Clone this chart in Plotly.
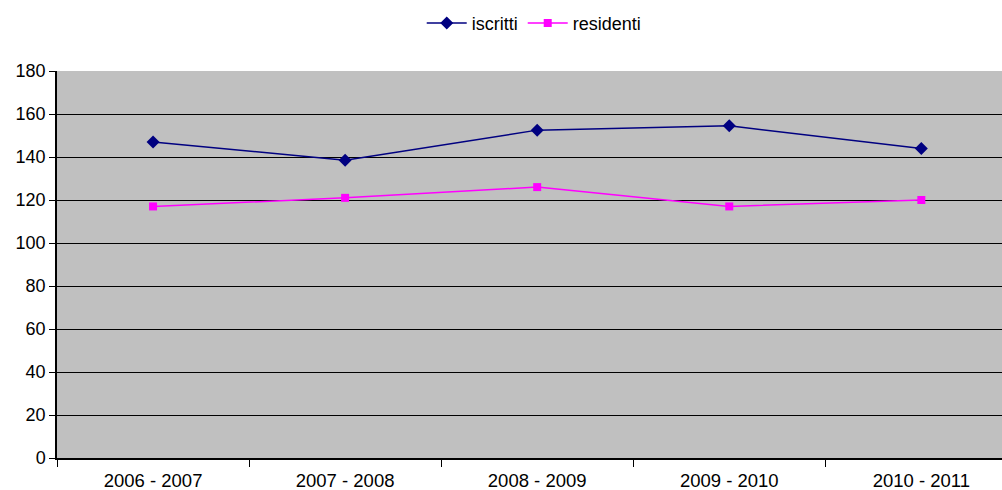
import plotly.graph_objects as go

# Anni accademici e numeri per serie
anni = ["2006 - 2007", "2007 - 2008", "2008 - 2009", "2009 - 2010", "2010 - 2011"]
iscritti = [147, 138.5, 152.5, 154.5, 144]
residenti = [117, 121, 126, 117, 120]
y_ticks = [0, 20, 40, 60, 80, 100, 120, 140, 160, 180]

font = dict(family="Liberation Sans, Arial, sans-serif", size=18, color="black")
xfont = dict(family="Liberation Sans, Arial, sans-serif", size=18.5, color="black")

fig = go.Figure()
fig.add_trace(go.Scatter(
    x=anni, y=iscritti, name="iscritti", mode="lines+markers",
    line=dict(color="#000080", width=1.5),
    marker=dict(symbol="diamond", size=10, color="#000080"),
))
fig.add_trace(go.Scatter(
    x=anni, y=residenti, name="residenti", mode="lines+markers",
    line=dict(color="#FF00FF", width=1.5),
    marker=dict(symbol="square", size=8, color="#FF00FF"),
))

fig.update_layout(
    width=1002, height=490,
    margin=dict(l=57, r=0, t=71, b=32),
    paper_bgcolor="white",
    plot_bgcolor="#C0C0C0",
    font=font,
    showlegend=True,
    legend=dict(orientation="h", x=0.505, xanchor="center", y=0.99, yanchor="top",
                yref="container", font=font, itemwidth=40),
)

fig.update_xaxes(
    type="category", range=[-0.5, 4.42], automargin=False,
    showgrid=False, showline=True, linecolor="black", linewidth=1.5,
    ticks="outside", tickson="boundaries", ticklen=7, tickcolor="black",
    tickfont=xfont, ticklabelstandoff=5, zeroline=False,
)
fig.update_yaxes(
    range=[0, 180], tickvals=y_ticks, automargin=False,
    showgrid=True, gridcolor="black", gridwidth=1,
    showline=True, linecolor="black", linewidth=1.5,
    ticks="outside", ticklen=6, tickcolor="black",
    tickfont=font, zeroline=False,
)

fig.write_html("out.html")
